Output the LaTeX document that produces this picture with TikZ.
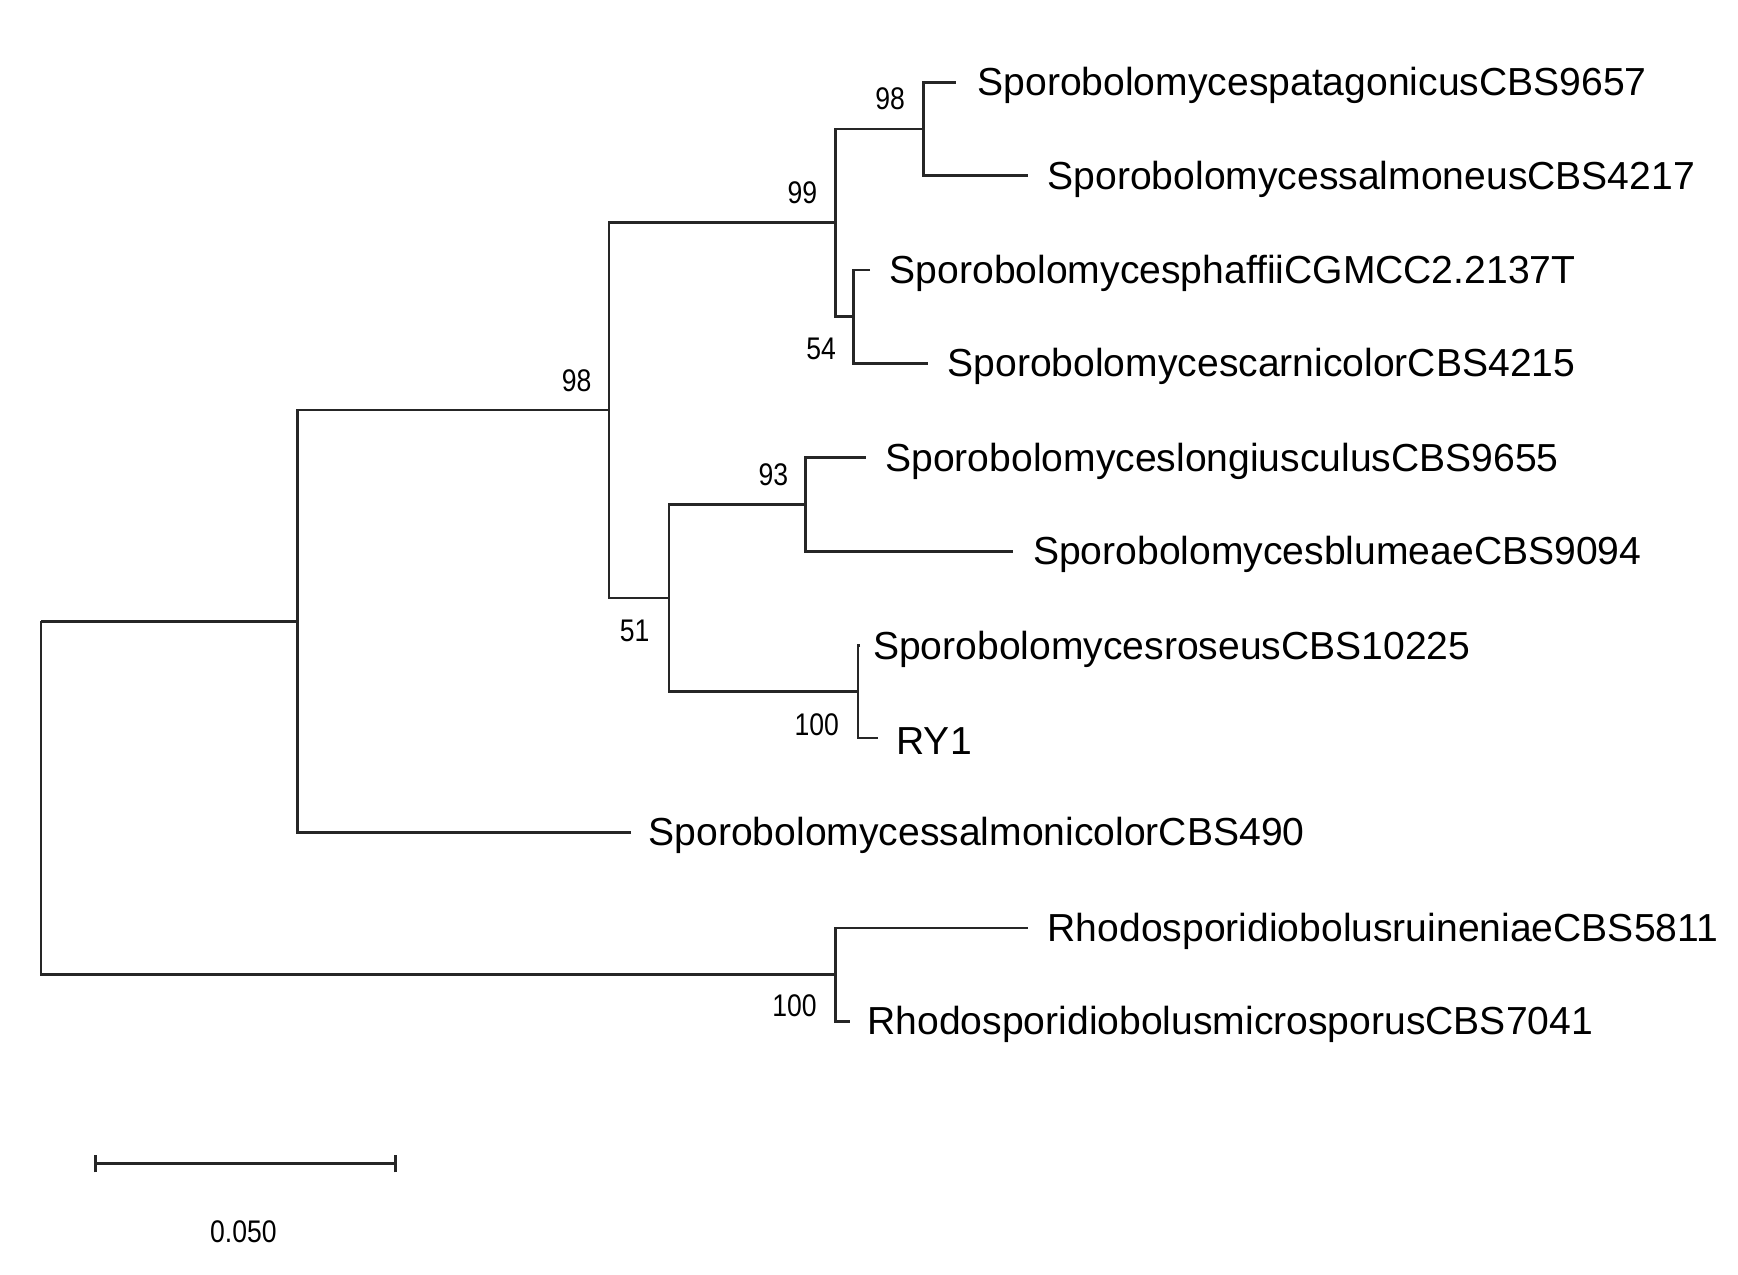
\documentclass[tikz,border=0pt]{standalone}
\usepackage{fontspec}
\setmainfont{Liberation Sans}
\begin{document}
\begin{tikzpicture}[x=0.01cm,y=-0.01cm,
  br/.style={line width=0.7pt,black!85},
  leaf/.style={anchor=west,inner sep=0pt,yshift=-0.03cm,font=\fontsize{10pt}{11pt}\selectfont},
  bs/.style={inner sep=0pt,font=\fontsize{8pt}{9pt}\selectfont\addfontfeature{FakeStretch=0.85}}]
\useasboundingbox (0,0) rectangle (1564,1147);
% internal nodes
\coordinate (R) at (37,718);
\coordinate (A) at (268,559);
\coordinate (O) at (752,877);
\coordinate (B) at (548,369);
\coordinate (C) at (752,200);
\coordinate (D) at (831,116);
\coordinate (E) at (768,285);
\coordinate (F) at (602,538);
\coordinate (G) at (725,454);
\coordinate (H) at (772,622);
% leaf ends
\coordinate (l1) at (860,74);
\coordinate (l2) at (925,158);
\coordinate (l3) at (783,243);
\coordinate (l4) at (835,327);
\coordinate (l5) at (779,412);
\coordinate (l6) at (912,496);
\coordinate (l7) at (774,581);
\coordinate (l8) at (790,664);
\coordinate (l9) at (568,749);
\coordinate (l10) at (925,835);
\coordinate (l11) at (765,919);
% labels
\node[leaf] (t1) at ([xshift=0.19cm]l1) {SporobolomycespatagonicusCBS9657};
\node[leaf] (t2) at ([xshift=0.17cm]l2) {SporobolomycessalmoneusCBS4217};
\node[leaf] (t3) at ([xshift=0.17cm]l3) {SporobolomycesphaffiiCGMCC2.2137T};
\node[leaf] (t4) at ([xshift=0.17cm]l4) {SporobolomycescarnicolorCBS4215};
\node[leaf] (t5) at ([xshift=0.17cm]l5) {SporobolomyceslongiusculusCBS9655};
\node[leaf] (t6) at ([xshift=0.17cm]l6) {SporobolomycesblumeaeCBS9094};
\node[leaf] (t7) at ([xshift=0.11cm]l7) {SporobolomycesroseusCBS10225};
\node[leaf] (t8) at ([xshift=0.16cm]l8) {RY1};
\node[leaf] (t9) at ([xshift=0.15cm]l9) {SporobolomycessalmonicolorCBS490};
\node[leaf] (t10) at ([xshift=0.17cm]l10) {RhodosporidiobolusruineniaeCBS5811};
\node[leaf] (t11) at ([xshift=0.15cm]l11) {RhodosporidiobolusmicrosporusCBS7041};
% branches
\draw[br] (l9) -| (A) |- (B);
\draw[br] (R |- A) -- (A);
\draw[br] (R |- A) -- (R) |- (O);
\draw[br] (l10) -| (O) |- (l11);
\draw[br] (C) -| (B) |- (F);
\draw[br] (D) -| (C) |- (E);
\draw[br] (l1) -| (D) |- (l2);
\draw[br] (l3) -| (E) |- (l4);
\draw[br] (G) -| (F) |- (H);
\draw[br] (l5) -| (G) |- (l6);
\draw[br] (l7) -| (H) |- (l8);
% bootstrap
\node[bs] (b1) at (801,89) {98};
\node[bs] (b2) at (722,173) {99};
\node[bs] (b3) at (739,314) {54};
\node[bs] (b4) at (519,343) {98};
\node[bs] (b5) at (696,427) {93};
\node[bs] (b6) at (571,568) {51};
\node[bs] (b7) at (735,652) {100};
\node[bs] (b8) at (715,905) {100};
% scale bar
\coordinate (s1) at (86,1047);
\coordinate (s2) at (356,1047);
\draw[br] (s1) -- (s2);
\draw[br] ([yshift=-0.08cm]s1) -- ([yshift=0.08cm]s1);
\draw[br] ([yshift=-0.08cm]s2) -- ([yshift=0.08cm]s2);
\node[bs] (sl) at (219,1108) {0.050};
\end{tikzpicture}
\end{document}
